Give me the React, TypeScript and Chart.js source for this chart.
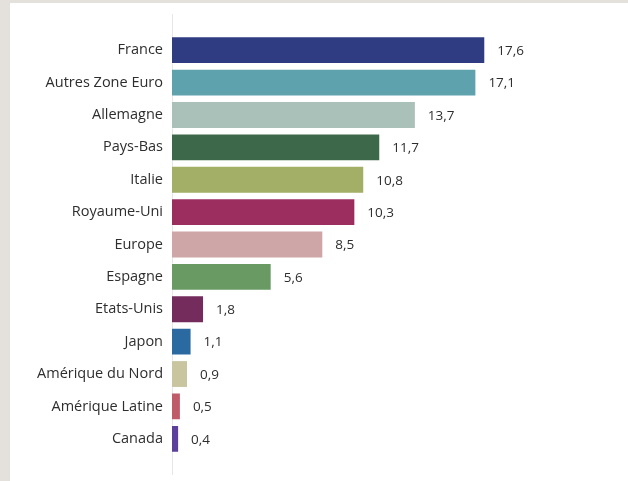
import { useEffect, useRef } from 'react'
import { Chart, registerables, ChartConfiguration, Plugin } from 'chart.js'

Chart.register(...registerables)

const countries = [
  'France',
  'Autres Zone Euro',
  'Allemagne',
  'Pays-Bas',
  'Italie',
  'Royaume-Uni',
  'Europe',
  'Espagne',
  'Etats-Unis',
  'Japon',
  'Amérique du Nord',
  'Amérique Latine',
  'Canada',
]
const shares = [17.6, 17.1, 13.7, 11.7, 10.8, 10.3, 8.5, 5.6, 1.8, 1.1, 0.9, 0.5, 0.4]
const barColors = [
  '#2f3c81',
  '#5ea2ad',
  '#a9c1b8',
  '#3d6849',
  '#a3ae66',
  '#9b2e5f',
  '#cea6a7',
  '#6a9a64',
  '#732c5c',
  '#2a6aa1',
  '#c8c59f',
  '#c05c6a',
  '#5c3f9b',
]

const FONT = "'Open Sans', sans-serif"

const fmt = (v: number) => v.toLocaleString('fr-FR', { minimumFractionDigits: 1, maximumFractionDigits: 1 })

// value labels at the end of each bar
const valueLabels: Plugin<'bar'> = {
  id: 'valueLabels',
  afterDatasetsDraw(chart) {
    const ctx = chart.ctx
    const meta = chart.getDatasetMeta(0)
    ctx.save()
    ctx.font = `13.5px ${FONT}`
    ctx.fillStyle = '#2e2e2e'
    ctx.textAlign = 'left'
    ctx.textBaseline = 'middle'
    meta.data.forEach((bar, i) => {
      ctx.fillText(fmt(shares[i]), bar.x + 12, bar.y + 1)
    })
    ctx.restore()
  },
}

// thin zero line running a bit past the plot area
const zeroLine: Plugin<'bar'> = {
  id: 'zeroLine',
  beforeDatasetsDraw(chart) {
    const { ctx, chartArea, scales } = chart
    const x = Math.round(scales.x.getPixelForValue(0)) + 0.5
    ctx.save()
    ctx.strokeStyle = '#e6e6e6'
    ctx.lineWidth = 1
    ctx.beginPath()
    ctx.moveTo(x, chartArea.top - 20)
    ctx.lineTo(x, chartArea.bottom + 20)
    ctx.stroke()
    ctx.restore()
  },
}

export default function App() {
  const canvasRef = useRef<HTMLCanvasElement>(null)
  const chartInstance = useRef<Chart | null>(null)

  useEffect(() => {
    if (!canvasRef.current) return
    if (chartInstance.current) chartInstance.current.destroy()

    const config: ChartConfiguration<'bar'> = {
      type: 'bar',
      data: {
        labels: countries,
        datasets: [
          {
            data: shares,
            backgroundColor: barColors,
            borderColor: 'rgba(255,255,255,0.35)',
            borderWidth: 1,
            barPercentage: 0.86,
            categoryPercentage: 1,
          },
        ],
      },
      options: {
        indexAxis: 'y',
        responsive: false,
        animation: false,
        layout: { padding: { top: 31, bottom: 26, left: 0, right: 100 } },
        plugins: {
          legend: { display: false },
          tooltip: { enabled: false },
        },
        scales: {
          x: {
            display: false,
            min: 0,
            max: 20,
          },
          y: {
            afterFit(scale) {
              scale.width = 162
            },
            grid: { display: false, drawTicks: false },
            border: { display: false },
            ticks: {
              padding: 9,
              color: '#2e2e2e',
              font: { family: FONT, size: 14.5 },
            },
          },
        },
      },
      plugins: [zeroLine, valueLabels],
    }

    chartInstance.current = new Chart(canvasRef.current, config)

    return () => {
      if (chartInstance.current) {
        chartInstance.current.destroy()
        chartInstance.current = null
      }
    }
  }, [])

  return (
    <div
      style={{
        position: 'fixed',
        inset: 0,
        background: '#e4e0dc',
      }}
    >
      <div
        style={{
          position: 'absolute',
          left: 10,
          top: 3,
          width: 618,
          height: 478,
          background: '#ffffff',
        }}
      >
        <canvas ref={canvasRef} width={618} height={478} style={{ display: 'block', width: 618, height: 478 }} />
      </div>
    </div>
  )
}
